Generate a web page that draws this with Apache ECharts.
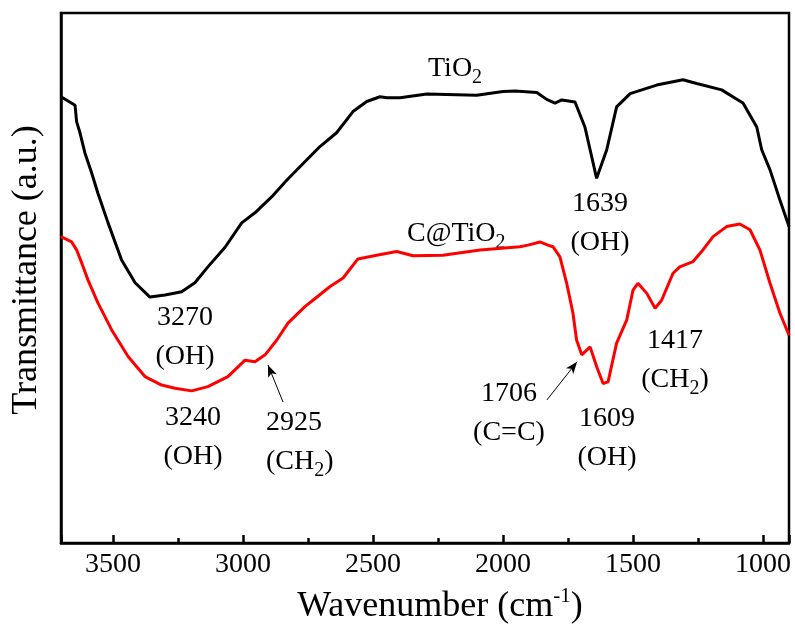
<!DOCTYPE html>
<html>
<head>
<meta charset="utf-8">
<script src="https://cdn.jsdelivr.net/npm/echarts@6/dist/echarts.min.js"></script>
<style>
  html, body { margin: 0; padding: 0; background: #fff; }
  #chart { width: 795px; height: 625px; }
</style>
</head>
<body>
<div id="chart"></div>
<script>
// ---- Data ----
const tio2Wavenumber = [3700, 3646, 3640, 3627, 3608, 3582, 3558, 3519, 3467, 3415, 3358, 3300, 3236, 3185, 3135, 3069, 3005, 2954, 2890, 2831, 2781, 2704, 2640, 2577, 2524, 2473, 2447, 2396, 2293, 2101, 2000, 1954, 1870, 1832, 1800, 1774, 1723, 1685, 1665, 1640, 1601, 1563, 1511, 1409, 1308, 1255, 1159, 1096, 1077, 1024, 1005, 973, 935, 900];
const tio2Values     = [84.2, 82.6, 79.5, 77.4, 73.6, 69.8, 66.0, 60.4, 53.4, 49.1, 46.4, 46.8, 47.4, 49.1, 52.1, 55.8, 60.4, 62.3, 65.3, 68.5, 71.0, 74.8, 77.4, 81.4, 83.3, 84.2, 84.0, 84.0, 84.7, 84.5, 85.2, 85.3, 85.0, 83.7, 83.0, 83.6, 83.2, 78.5, 74.2, 68.8, 74.2, 82.3, 84.8, 86.4, 87.4, 86.7, 85.5, 83.6, 83.0, 78.5, 74.2, 70.4, 64.7, 59.7];

const ctio2Wavenumber = [3700, 3659, 3640, 3620, 3596, 3558, 3505, 3442, 3377, 3313, 3262, 3197, 3135, 3058, 2992, 2954, 2915, 2870, 2827, 2762, 2731, 2665, 2615, 2558, 2486, 2409, 2346, 2231, 2088, 1935, 1904, 1858, 1827, 1808, 1781, 1755, 1731, 1717, 1697, 1665, 1640, 1615, 1596, 1563, 1524, 1500, 1481, 1447, 1415, 1390, 1346, 1320, 1269, 1231, 1192, 1140, 1089, 1050, 1012, 973, 935, 900];
const ctio2Values     = [57.8, 56.8, 55.3, 52.8, 49.6, 45.3, 40.2, 35.2, 31.4, 29.8, 29.2, 28.7, 29.5, 31.4, 34.5, 34.2, 35.5, 38.3, 41.5, 44.6, 45.8, 48.4, 50.0, 53.6, 54.3, 55.0, 54.2, 54.3, 55.3, 55.9, 56.2, 56.8, 56.2, 55.9, 54.0, 49.0, 43.4, 38.3, 35.5, 37.0, 33.3, 30.1, 30.4, 37.7, 42.1, 47.7, 49.0, 47.1, 44.3, 45.8, 50.9, 52.1, 53.1, 55.3, 57.8, 59.7, 60.2, 59.1, 55.3, 49.0, 43.4, 39.2];

const seriesNames = ['TiO2', 'C@TiO2'];
const xRange = [900, 3700];
const yRange = [0, 100];

// annotation arrows (data coordinates: tail -> tip)
const arrowTails = [[2846, 26.6], [1831, 27.0]];
const arrowTips  = [[2904, 33.6], [1715, 34.2]];

// ---- Chart ----
const FONT = '"Liberation Serif", "Times New Roman", serif';
const zip = (xs, ys) => xs.map((x, i) => [x, ys[i]]);
const subRich = { sub: { fontSize: 20, fontFamily: FONT, lineHeight: 9, verticalAlign: 'bottom', fill: '#000' } };

function label(x, y, text, align) {
  return {
    type: 'text', x: x, y: y, silent: true,
    style: {
      text: text, fill: '#000', fontSize: 28, fontFamily: FONT,
      align: align || 'center', verticalAlign: 'top', lineHeight: 39,
      rich: subRich
    }
  };
}

const chart = echarts.init(document.getElementById('chart'), null, { renderer: 'canvas' });
chart.setOption({
  animation: false,
  backgroundColor: '#fff',
  grid: { left: 61, right: 6, top: 13, bottom: 82, containLabel: false, outerBoundsMode: 'none',
          show: true, borderColor: '#000', borderWidth: 2.5, backgroundColor: 'transparent' },
  xAxis: {
    type: 'value', min: xRange[0], max: xRange[1], inverse: true, splitNumber: 5,
    name: '{n|Wavenumber (cm}{sup|-1}{n|)}',
    nameLocation: 'middle', nameGap: 43,
    nameTextStyle: {
      padding: [0, 0, 0, 30],
      rich: {
        n: { fontSize: 36, fontFamily: FONT, color: '#000', lineHeight: 42 },
        sup: { fontSize: 21, fontFamily: FONT, color: '#000', lineHeight: 21, verticalAlign: 'top' }
      }
    },
    axisLine: { show: true, onZero: false, lineStyle: { color: '#000', width: 2.5 } },
    axisTick: { show: true, inside: true, length: 8, lineStyle: { color: '#000', width: 2.5 } },
    minorTick: { show: true, splitNumber: 2, length: 5, lineStyle: { color: '#000', width: 2.5 } },
    axisLabel: { color: '#000', fontSize: 28, fontFamily: FONT, margin: 8, showMinLabel: false, showMaxLabel: false,
                 formatter: v => String(v) },
    splitLine: { show: false }
  },
  yAxis: {
    type: 'value', min: yRange[0], max: yRange[1],
    name: 'Transmittance (a.u.)', nameLocation: 'middle', nameGap: 16,
    nameTextStyle: { fontSize: 36, fontFamily: FONT, color: '#000', padding: [0, 0, 0, 16] },
    axisLine: { show: true, lineStyle: { color: '#000', width: 2.5 } },
    axisTick: { show: false }, axisLabel: { show: false }, splitLine: { show: false }
  },
  series: [
    {
      name: seriesNames[0], type: 'line', data: zip(tio2Wavenumber, tio2Values),
      showSymbol: false, symbol: 'none', lineStyle: { color: '#000', width: 3 }, z: 3
    },
    {
      name: seriesNames[1], type: 'line', data: zip(ctio2Wavenumber, ctio2Values),
      showSymbol: false, symbol: 'none', lineStyle: { color: '#ff0000', width: 3 }, z: 2,
      markLine: {
        silent: true, animation: false,
        symbol: ['none', 'arrow'], symbolSize: [7, 12],
        lineStyle: { color: '#000', width: 1, type: 'solid' },
        label: { show: false },
        emphasis: { disabled: true },
        data: arrowTails.map((t, i) => [{ coord: t }, { coord: arrowTips[i] }])
      }
    }
  ],
  graphic: [
    label(428, 49, 'TiO{sub|2}', 'left'),
    label(407, 214, 'C@TiO{sub|2}', 'left'),
    label(600, 184, '1639\n(OH)'),
    label(185, 298, '3270\n(OH)'),
    label(193, 398, '3240\n(OH)'),
    label(266, 403, '2925\n(CH{sub|2})', 'left'),
    label(509, 374, '1706\n(C=C)'),
    label(607, 399, '1609\n(OH)'),
    label(675, 321, '1417\n(CH{sub|2})')
  ]
});
</script>
</body>
</html>
